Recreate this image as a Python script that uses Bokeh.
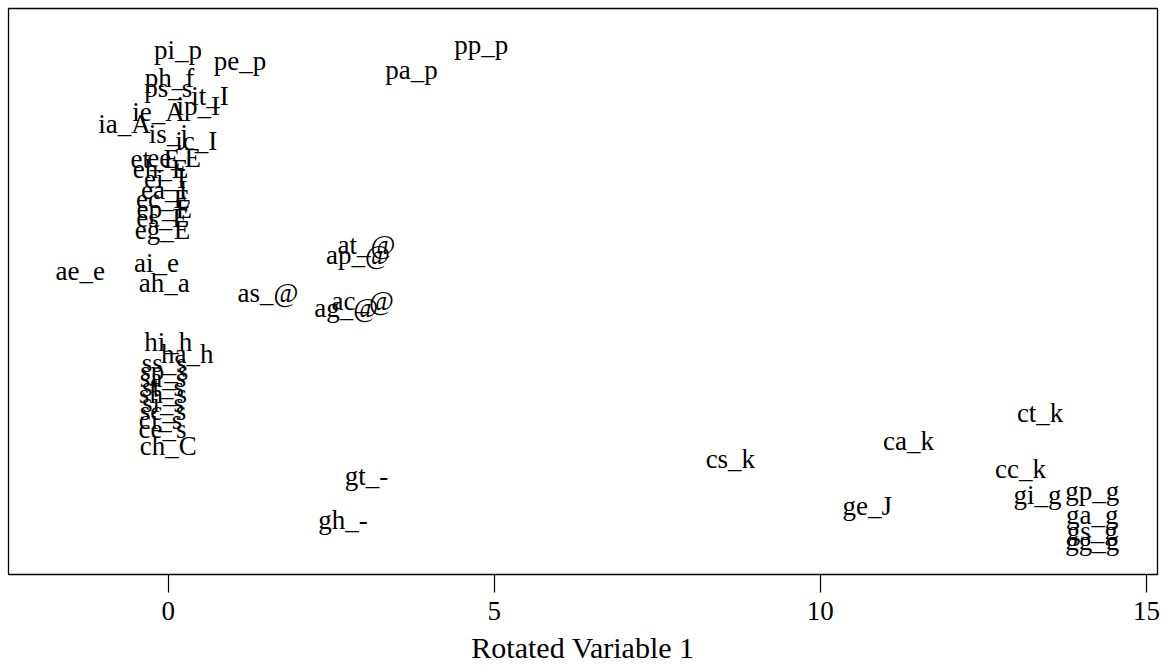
from bokeh.plotting import figure
from bokeh.models import Range1d, FixedTicker, ColumnDataSource
from bokeh.core.properties import value
from bokeh.embed import file_html
from bokeh.resources import INLINE

labels = ["pi_p", "pe_p", "pp_p", "pa_p", "ph_f", "ps_s", "it_I", "ip_I", "ie_A", "ia_A",
          "is_j", "ic_I", "et_E", "ee_E", "eh_E", "ei_I", "ea_I", "ec_E", "ep_E", "es_E",
          "eg_E", "ae_e", "ai_e", "ah_a", "as_@", "at_@", "ap_@", "ac_@", "ag_@", "hi_h",
          "ha_h", "ss_s", "sp_s", "sa_s", "st_s", "sh_s", "si_s", "sc_s", "ci_s", "ce_s",
          "ch_C", "gt_-", "gh_-", "cs_k", "ca_k", "ct_k", "cc_k", "gi_g", "ge_J", "gp_g",
          "ga_g", "gs_g", "gg_g"]
rot1 = [0.15, 1.10, 4.80, 3.73, 0.02, 0.00, 0.64, 0.46, -0.15, -0.67,
        0.00, 0.43, -0.20, 0.09, -0.12, -0.05, -0.06, -0.08, -0.06, -0.09,
        -0.09, -1.35, -0.18, -0.06, 1.53, 3.04, 2.91, 2.98, 2.73, 0.00,
        0.29, -0.06, -0.06, -0.08, -0.08, -0.08, -0.08, -0.08, -0.12, -0.09,
        0.00, 3.04, 2.68, 8.62, 11.35, 13.37, 13.07, 13.33, 10.72, 14.17,
        14.17, 14.17, 14.17]
rot2 = [7.20, 6.97, 7.30, 6.80, 6.64, 6.46, 6.29, 6.11, 5.98, 5.75,
        5.57, 5.42, 5.08, 5.10, 4.89, 4.68, 4.48, 4.29, 4.11, 3.92,
        3.69, 2.89, 3.06, 2.66, 2.48, 3.41, 3.20, 2.32, 2.17, 1.51,
        1.28, 1.12, 0.96, 0.81, 0.65, 0.50, 0.34, 0.17, 0.01, -0.18,
        -0.51, -1.08, -1.95, -0.75, -0.40, 0.13, -0.94, -1.46, -1.66, -1.37,
        -1.85, -2.15, -2.34]
x_ticks = [0, 5, 10, 15]
x_title = "Rotated Variable 1"

src = ColumnDataSource(dict(x=rot1, y=rot2, t=labels))

p = figure(width=1164, height=666, output_backend="svg", toolbar_location=None,
           x_range=Range1d(-2.45, 15.17), y_range=Range1d(-3.0, 8.0),
           min_border_left=8, min_border_right=7, min_border_top=8, min_border_bottom=92)
p.background_fill_color = "white"
p.border_fill_color = "white"
p.outline_line_color = "black"
p.outline_line_width = 1.3
p.xgrid.visible = False
p.ygrid.visible = False
p.yaxis.visible = False

p.text(x="x", y="y", text="t", source=src, text_align="center", text_baseline="middle",
       text_font=value("Liberation Serif"), text_font_size="27px", text_color="black")

ax = p.xaxis[0]
ax.ticker = FixedTicker(ticks=x_ticks)
ax.axis_line_color = None
ax.major_tick_out = 18
ax.major_tick_in = 0
ax.minor_tick_line_color = None
ax.major_tick_line_color = "black"
ax.major_tick_line_width = 1.2
ax.major_label_text_font = "Liberation Serif"
ax.major_label_text_font_size = "27px"
ax.major_label_text_color = "black"
ax.major_label_standoff = 9
ax.axis_label = x_title
ax.axis_label_text_font = "Liberation Serif"
ax.axis_label_text_font_size = "30px"
ax.axis_label_text_font_style = "normal"
ax.axis_label_text_color = "black"
ax.axis_label_standoff = 8

open("out.html", "w").write(file_html(p, INLINE))
